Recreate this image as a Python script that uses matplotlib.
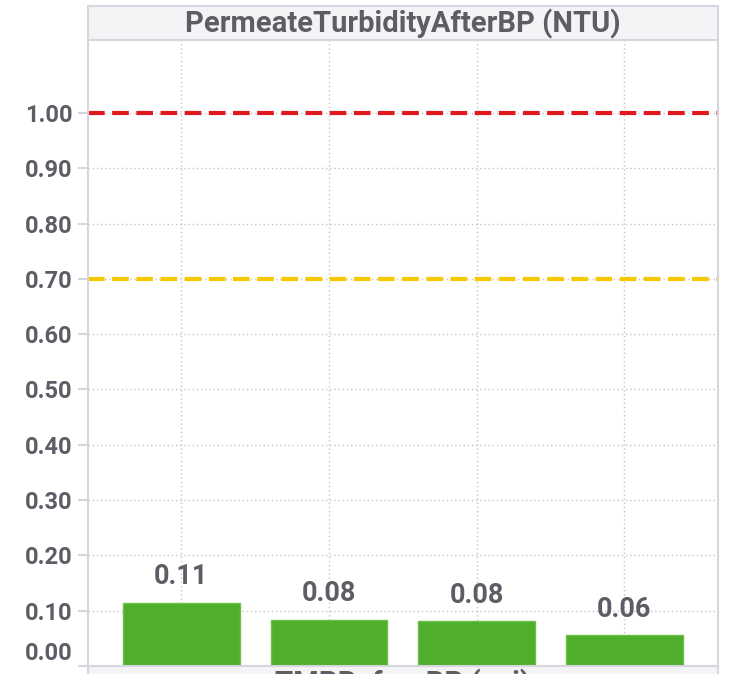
import numpy as np
import matplotlib.pyplot as plt
from matplotlib.patches import Rectangle
from matplotlib.transforms import ScaledTranslation

plt.rcParams['font.family'] = ['Roboto', 'DejaVu Sans']

title = 'PermeateTurbidityAfterBP (NTU)'
x_title = 'TMPBeforeBP (psi)'
categories = ['A', 'B', 'C', 'D']
values = [0.114, 0.084, 0.081, 0.056]
red_limit = 1.00
yellow_limit = 0.70
y_ticks = [0.0, 0.1, 0.2, 0.3, 0.4, 0.5, 0.6, 0.7, 0.8, 0.9, 1.0]

text_col = '#5c5d65'
line_col = '#d6d7de'
box_fill = '#f4f4f6'

W, H = 731, 674
fig = plt.figure(figsize=(W / 100, H / 100), dpi=100)
ax = fig.add_axes([88 / W, 1 - 666 / H, 630 / W, 626 / H])

x = np.arange(len(categories))
ax.bar(x, values, width=0.79, color='#4fae2c', edgecolor='#6cc04a', linewidth=1, zorder=3)
for xi, v in zip(x, values):
    ax.annotate(f'{v:.2f}', (xi, v), xytext=(0, 9), textcoords='offset points',
                ha='center', va='bottom', fontsize=19.5, fontweight='bold', color=text_col, zorder=4)

ax.axhline(red_limit, color='#e0191f', linestyle=(0, (4, 1.8)), linewidth=3, zorder=2)
ax.axhline(yellow_limit, color='#f5c800', linestyle=(0, (4, 1.8)), linewidth=3, zorder=2)

ax.set_xlim(-0.632, 3.635)
ax.set_ylim(0, 1.132)
ax.set_xticks(x)
ax.set_xticklabels([])
ax.tick_params(axis='x', length=0)
ax.set_yticks(y_ticks)
ax.set_yticklabels([f'{t:.2f}' for t in y_ticks])
ax.tick_params(axis='y', length=7, width=1.5, color=line_col, pad=4,
               labelsize=17, labelcolor=text_col)
for lab in ax.get_yticklabels():
    lab.set_fontweight('bold')
ax.get_yticklabels()[0].set_transform(
    ax.get_yticklabels()[0].get_transform() + ScaledTranslation(0, 15 / 100, fig.dpi_scale_trans))

ax.grid(True, linestyle=(0, (1, 2)), color='#c4c4c8', linewidth=1, zorder=0)
for side in ['left', 'right', 'bottom']:
    ax.spines[side].set_color(line_col)
    ax.spines[side].set_linewidth(1.5)
ax.spines['top'].set_visible(False)

fig.patches.append(Rectangle((88 / W, 1 - 40 / H), 630 / W, 34 / H, transform=fig.transFigure,
                             facecolor=box_fill, edgecolor=line_col, linewidth=1.5, zorder=0))
fig.text(403 / W, 1 - 24 / H, title, ha='center', va='center', fontsize=21,
         fontweight='bold', color=text_col)

fig.patches.append(Rectangle((88 / W, -0.05), 630 / W, 0.05 + 1 - 666 / H, transform=fig.transFigure,
                             facecolor=box_fill, edgecolor=line_col, linewidth=1.5, zorder=0))
fig.text(403 / W, 1 - 669 / H, x_title, ha='center', va='top', fontsize=21,
         fontweight='bold', color=text_col)

fig.savefig('out.png', dpi=100)
